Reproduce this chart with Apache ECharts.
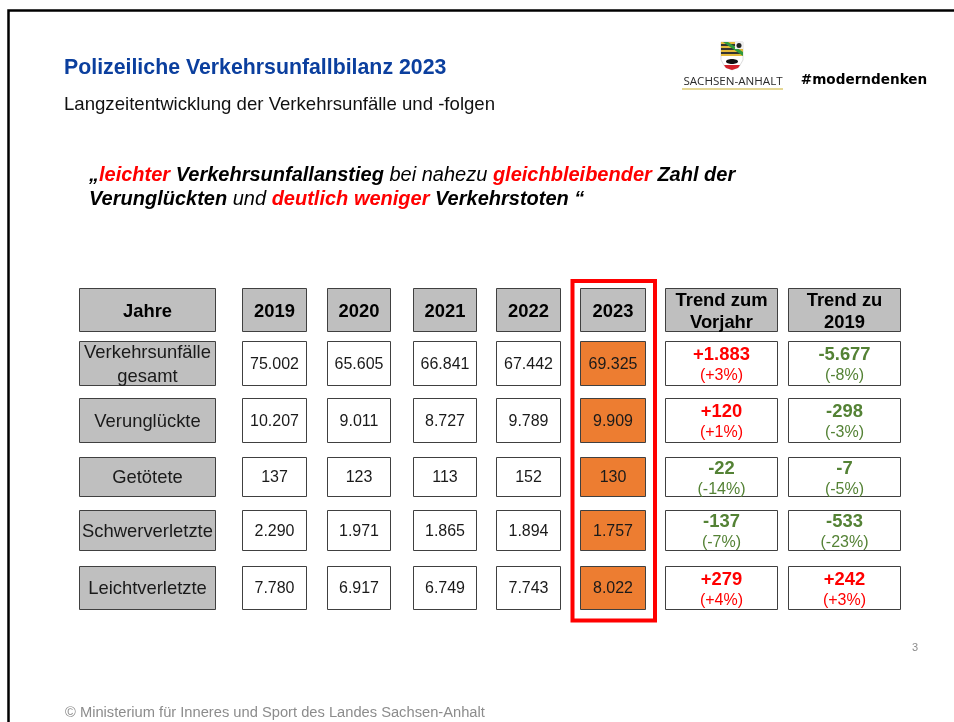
<!DOCTYPE html>
<html>
<head>
    <meta charset="UTF-8">
    <title>Polizeiliche Verkehrsunfallbilanz 2023</title>
    <script src="https://cdn.jsdelivr.net/npm/echarts@6/dist/echarts.min.js"></script>
    <style>
        html, body { margin: 0; padding: 0; background: #fff; }
        #chartContainer { width: 954px; height: 722px; }
    </style>
</head>
<body>
<div id="chartContainer"></div>
<script>
    // Werte aus der Folie
    var years = ['2019', '2020', '2021', '2022', '2023'];
    var rowLabels = ['Verkehrsunfälle\ngesamt', 'Verunglückte', 'Getötete', 'Schwerverletzte', 'Leichtverletzte'];
    var unfaelle = [75002, 65605, 66841, 67442, 69325];
    var verunglueckte = [10207, 9011, 8727, 9789, 9909];
    var getoetete = [137, 123, 113, 152, 130];
    var schwerverletzte = [2290, 1971, 1865, 1894, 1757];
    var leichtverletzte = [7780, 6917, 6749, 7743, 8022];
    var trendVorjahr = [1883, 120, -22, -137, 279];
    var trendVorjahrProzent = [3, 1, -14, -7, 4];
    var trend2019 = [-5677, -298, -7, -533, 242];
    var trend2019Prozent = [-8, -3, -5, -23, 3];

    var rowValues = [unfaelle, verunglueckte, getoetete, schwerverletzte, leichtverletzte];
    var FONT = '"Liberation Sans", Arial, sans-serif';
    var GREY = '#bfbfbf', ORANGE = '#ed7d31', RED = '#ff0000', GREEN = '#548235', LINE = '#404040';

    function fmt(n) {
        return String(Math.abs(n)).replace(/\B(?=(\d{3})+$)/g, '.');
    }
    function signed(n) {
        return (n < 0 ? '-' : '+') + fmt(n);
    }

    // Zellen der Tabelle: Spalte, Zeile, Art, Text
    var cells = [];
    cells.push({ col: 'Jahre', row: 'head', kind: 'head', text: 'Jahre' });
    years.forEach(function (y) {
        cells.push({ col: y, row: 'head', kind: 'head', text: y });
    });
    cells.push({ col: 'T1', row: 'head', kind: 'head', text: 'Trend zum', text2: 'Vorjahr' });
    cells.push({ col: 'T2', row: 'head', kind: 'head', text: 'Trend zu', text2: '2019' });
    rowLabels.forEach(function (label, r) {
        var row = 'r' + r;
        cells.push({ col: 'Jahre', row: row, kind: 'label', text: label });
        years.forEach(function (y, c) {
            cells.push({ col: y, row: row, kind: y === '2023' ? 'now' : 'value', text: fmt(rowValues[r][c]) });
        });
        cells.push({
            col: 'T1', row: row, kind: 'trend', up: trendVorjahr[r] > 0,
            text: signed(trendVorjahr[r]), text2: '(' + (trendVorjahrProzent[r] > 0 ? '+' : '') + trendVorjahrProzent[r] + '%)'
        });
        cells.push({
            col: 'T2', row: row, kind: 'trend', up: trend2019[r] > 0,
            text: signed(trend2019[r]), text2: '(' + (trend2019Prozent[r] > 0 ? '+' : '') + trend2019Prozent[r] + '%)'
        });
    });

    function textEl(x, y, text, size, weight, color) {
        return {
            type: 'text',
            style: {
                x: x, y: y, text: text, fill: color, align: 'center', verticalAlign: 'middle',
                font: weight + ' ' + size + 'px ' + FONT, lineHeight: 24
            }
        };
    }

    function renderCell(params, api) {
        var cell = cells[params.dataIndex];
        var rect = api.layout([cell.col, cell.row]).rect;
        var cx = rect.x + rect.width / 2, cy = rect.y + rect.height / 2;
        var fill = cell.kind === 'head' || cell.kind === 'label' ? GREY : (cell.kind === 'now' ? ORANGE : '#fff');
        var children = [{
            type: 'rect',
            shape: { x: rect.x + 0.5, y: rect.y + 0.5, width: rect.width - 1, height: rect.height - 1 },
            style: { fill: fill, stroke: LINE, lineWidth: 1 }
        }];
        if (cell.kind === 'head' && cell.text2) {
            children.push(textEl(cx, cy - 9, cell.text, 18.4, 'bold', '#000'));
            children.push(textEl(cx, cy + 13, cell.text2, 18.4, 'bold', '#000'));
        } else if (cell.kind === 'head') {
            children.push(textEl(cx, cy + 1.5, cell.text, 18.4, 'bold', '#000'));
        } else if (cell.kind === 'label') {
            children.push(textEl(cx, cy + 1, cell.text, 18.4, 'normal', '#1a1a1a'));
        } else if (cell.kind === 'trend') {
            var color = cell.up ? RED : GREEN;
            children.push(textEl(cx, cy - 8.5, cell.text, 18.4, 'bold', color));
            children.push(textEl(cx, cy + 12.5, cell.text2, 16, 'normal', color));
        } else {
            children.push(textEl(cx, cy + 1, cell.text, 16, 'normal', '#1a1a1a'));
        }
        return { type: 'group', children: children };
    }

    var quoteStyles = {
        b: { font: 'italic bold 20px ' + FONT, fill: '#000' },
        r: { font: 'italic bold 20px ' + FONT, fill: '#ff0000' },
        n: { font: 'italic 20px ' + FONT, fill: '#000' }
    };
    function quoteText(x, y, text) {
        return {
            type: 'text', x: x, y: y,
            style: { text: text, rich: quoteStyles, verticalAlign: 'middle', align: 'left' }
        };
    }
    function slideText(x, y, text, font, fill, align) {
        return { type: 'text', x: x, y: y, style: { text: text, font: font, fill: fill, align: align || 'left', verticalAlign: 'middle' } };
    }

    // Wappen im Logo, grob nachgezeichnet
    var crest = [
        { type: 'polygon', shape: { points: [[721, 42], [743, 42], [743, 60], [739, 67], [732, 70], [725, 67], [721, 60]] }, style: { fill: '#fff', stroke: '#bbb', lineWidth: 0.5 } },
        { type: 'rect', shape: { x: 721, y: 42, width: 22, height: 14 }, style: { fill: '#e2b93b' } },
        { type: 'rect', shape: { x: 721, y: 44, width: 14, height: 2 }, style: { fill: '#333' } },
        { type: 'rect', shape: { x: 721, y: 48, width: 16, height: 2 }, style: { fill: '#333' } },
        { type: 'rect', shape: { x: 721, y: 52, width: 22, height: 2 }, style: { fill: '#333' } },
        { type: 'polygon', shape: { points: [[723, 42], [728, 42], [743, 52], [743, 56]] }, style: { fill: '#2f9a3d' } },
        { type: 'rect', shape: { x: 735, y: 42, width: 8, height: 7 }, style: { fill: '#eee' } },
        { type: 'circle', shape: { cx: 739, cy: 45.5, r: 2.5 }, style: { fill: '#222' } },
        { type: 'ellipse', shape: { cx: 732, cy: 61.5, rx: 6, ry: 2.5 }, style: { fill: '#111' } },
        { type: 'polygon', shape: { points: [[724, 65], [740, 65], [738, 68], [732, 70], [726, 68]] }, style: { fill: '#d3202a' } }
    ];

    var slideGraphics = [
        { type: 'polyline', shape: { points: [[8.5, 722], [8.5, 10.5], [954, 10.5]] }, style: { fill: null, stroke: '#000', lineWidth: 2.5 } },
        slideText(64, 68, 'Polizeiliche Verkehrsunfallbilanz 2023', 'bold 21.3px ' + FONT, '#0b3f9e'),
        slideText(64, 104.5, 'Langzeitentwicklung der Verkehrsunfälle und -folgen', '18.6px ' + FONT, '#111'),
        quoteText(89, 175, '{b|„}{r|leichter }{b|Verkehrsunfallanstieg }{n|bei nahezu }{r|gleichbleibender }{b|Zahl der}'),
        quoteText(89, 199, '{b|Verunglückten }{n|und }{r|deutlich weniger }{b|Verkehrstoten “}'),
        slideText(733, 82, 'SACHSEN-ANHALT', '11.6px "Open Sans", ' + FONT, '#2b2b2b', 'center'),
        { type: 'rect', shape: { x: 682, y: 88, width: 101, height: 2 }, style: { fill: '#e4d794' } },
        slideText(864, 80, '#moderndenken', 'bold 13.6px "DejaVu Sans", ' + FONT, '#000', 'center'),
        slideText(915, 648, '3', '11px ' + FONT, '#8c8c8c', 'center'),
        slideText(65, 713, '© Ministerium für Inneres und Sport des Landes Sachsen-Anhalt', '14.7px ' + FONT, '#8c8c8c'),
        { type: 'rect', shape: { x: 572.5, y: 281, width: 82.5, height: 339.5 }, style: { fill: null, stroke: '#ff0000', lineWidth: 4 }, z: 20 }
    ].concat(crest);

    var myChart = echarts.init(document.getElementById('chartContainer'));
    myChart.setOption({
        animation: false,
        backgroundColor: '#fff',
        textStyle: { fontFamily: FONT },
        graphic: { elements: slideGraphics },
        matrix: {
            left: 79, top: 288, width: 822, height: 322,
            backgroundStyle: { color: 'transparent', borderWidth: 0 },
            body: { itemStyle: { borderWidth: 0, color: 'transparent' }, label: { show: false } },
            corner: { show: false },
            x: {
                show: false,
                data: [
                    { value: 'Jahre', size: 137 }, { value: 'g1', size: 26 },
                    { value: '2019', size: 65 }, { value: 'g2', size: 20 },
                    { value: '2020', size: 64 }, { value: 'g3', size: 22 },
                    { value: '2021', size: 64 }, { value: 'g4', size: 19 },
                    { value: '2022', size: 65 }, { value: 'g5', size: 19 },
                    { value: '2023', size: 66 }, { value: 'g6', size: 19 },
                    { value: 'T1', size: 113 }, { value: 'g7', size: 10 },
                    { value: 'T2', size: 113 }
                ]
            },
            y: {
                show: false,
                data: [
                    { value: 'head', size: 44 }, { value: 'h1', size: 9 },
                    { value: 'r0', size: 45 }, { value: 'h2', size: 12 },
                    { value: 'r1', size: 45 }, { value: 'h3', size: 14 },
                    { value: 'r2', size: 40 }, { value: 'h4', size: 13 },
                    { value: 'r3', size: 41 }, { value: 'h5', size: 15 },
                    { value: 'r4', size: 44 }
                ]
            }
        },
        series: [{
            type: 'custom',
            coordinateSystem: 'matrix',
            renderItem: renderCell,
            data: cells.map(function (c) { return [c.col, c.row]; })
        }]
    });
</script>
</body>
</html>
